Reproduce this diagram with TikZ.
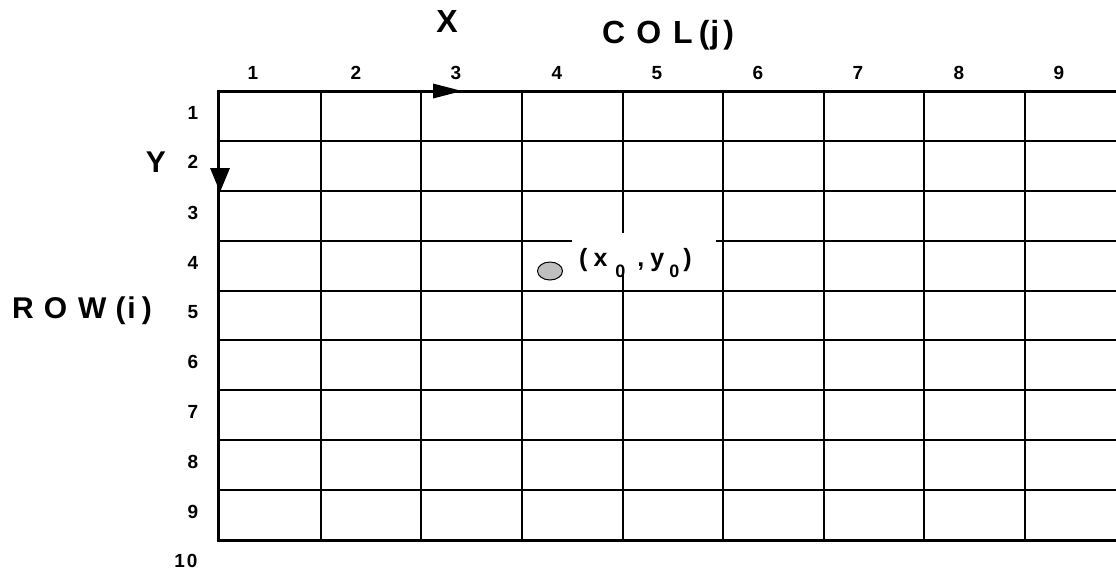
\documentclass[tikz,border=0pt]{standalone}
\usepackage{fontspec}
\setmainfont{Liberation Sans}
\newfontfamily\boldf{Liberation Sans Bold}
\newfontfamily\lspaced[LetterSpace=10]{Liberation Sans Bold}
\begin{document}
\begin{tikzpicture}[x=1pt,y=-1pt,
  thin grid/.style={line width=2pt},
  outer/.style={line width=3pt},
  bigtxt/.style={font=\boldf\fontsize{32}{32}\selectfont, inner sep=0pt},
  midtxt/.style={font=\boldf\fontsize{30}{30}\selectfont, inner sep=0pt},
  numtxt/.style={font=\lspaced\fontsize{19}{19}\selectfont, inner sep=0pt},
  dirarrow/.style={fill=black, draw=none}]
\useasboundingbox (0,0) rectangle (1116,571);
\clip (0,0) rectangle (1116,571);
% inner grid lines
\foreach \k in {1,...,8} {
  \draw[thin grid] ({220+100.625*\k},91) -- ({220+100.625*\k},540);
}
\foreach \k in {1,...,8} {
  \draw[thin grid] (220,{91+49.875*\k}) -- (1120,{91+49.875*\k});
}
% outer border
\draw[outer] (1120,91) -- (218.5,91) -- (218.5,540) -- (1120,540);
% label background
\fill[white] (572,233) rectangle (716,269.5);
% point and label
\draw[line width=1pt, fill=black!25] (550,271) ellipse [x radius=12.5, y radius=9];
\node[anchor=base west, inner sep=0pt, font=\boldf\fontsize{25}{25}\selectfont] (pt) at (579,266)
  {(\hspace{6pt}x\hspace{8pt}\raisebox{-11pt}{\fontsize{18}{18}\selectfont 0}\hspace{12pt},\hspace{6pt}y\hspace{5pt}\raisebox{-11pt}{\fontsize{18}{18}\selectfont 0}\hspace{4pt})};
% direction arrows
\fill[dirarrow] (433,83.5) -- (462,91) -- (433,98.5) -- cycle;
\fill[dirarrow] (210,168) -- (230,168) -- (220,192) -- cycle;
% axis titles
\node[bigtxt, anchor=base] (xl) at (447,32) {X};
\node[bigtxt, anchor=base west] (col) at (602,43) {C\hspace{11pt}O\hspace{12pt}L\hspace{6pt}(\hspace{1pt}j\hspace{4pt})};
\node[midtxt, anchor=base] (yl) at (156,172) {Y};
\node[midtxt, anchor=base west] (row) at (12,318) {R\hspace{10pt}O\hspace{11pt}W\hspace{9pt}(\hspace{2pt}i\hspace{6pt})};
% column numbers
\foreach \n/\x in {1/253,2/356,3/456,4/557,5/657,6/758,7/858,8/959,9/1059} {
  \node[numtxt, anchor=base] (c\n) at (\x,79) {\n};
}
% row numbers
\foreach \n/\y in {1/119,2/168,3/219,4/269,5/318,6/368,7/418,8/468,9/518} {
  \node[numtxt, anchor=base] (r\n) at (193,\y) {\n};
}
\node[numtxt, anchor=base] (r10) at (186,567) {10};
\end{tikzpicture}
\end{document}
